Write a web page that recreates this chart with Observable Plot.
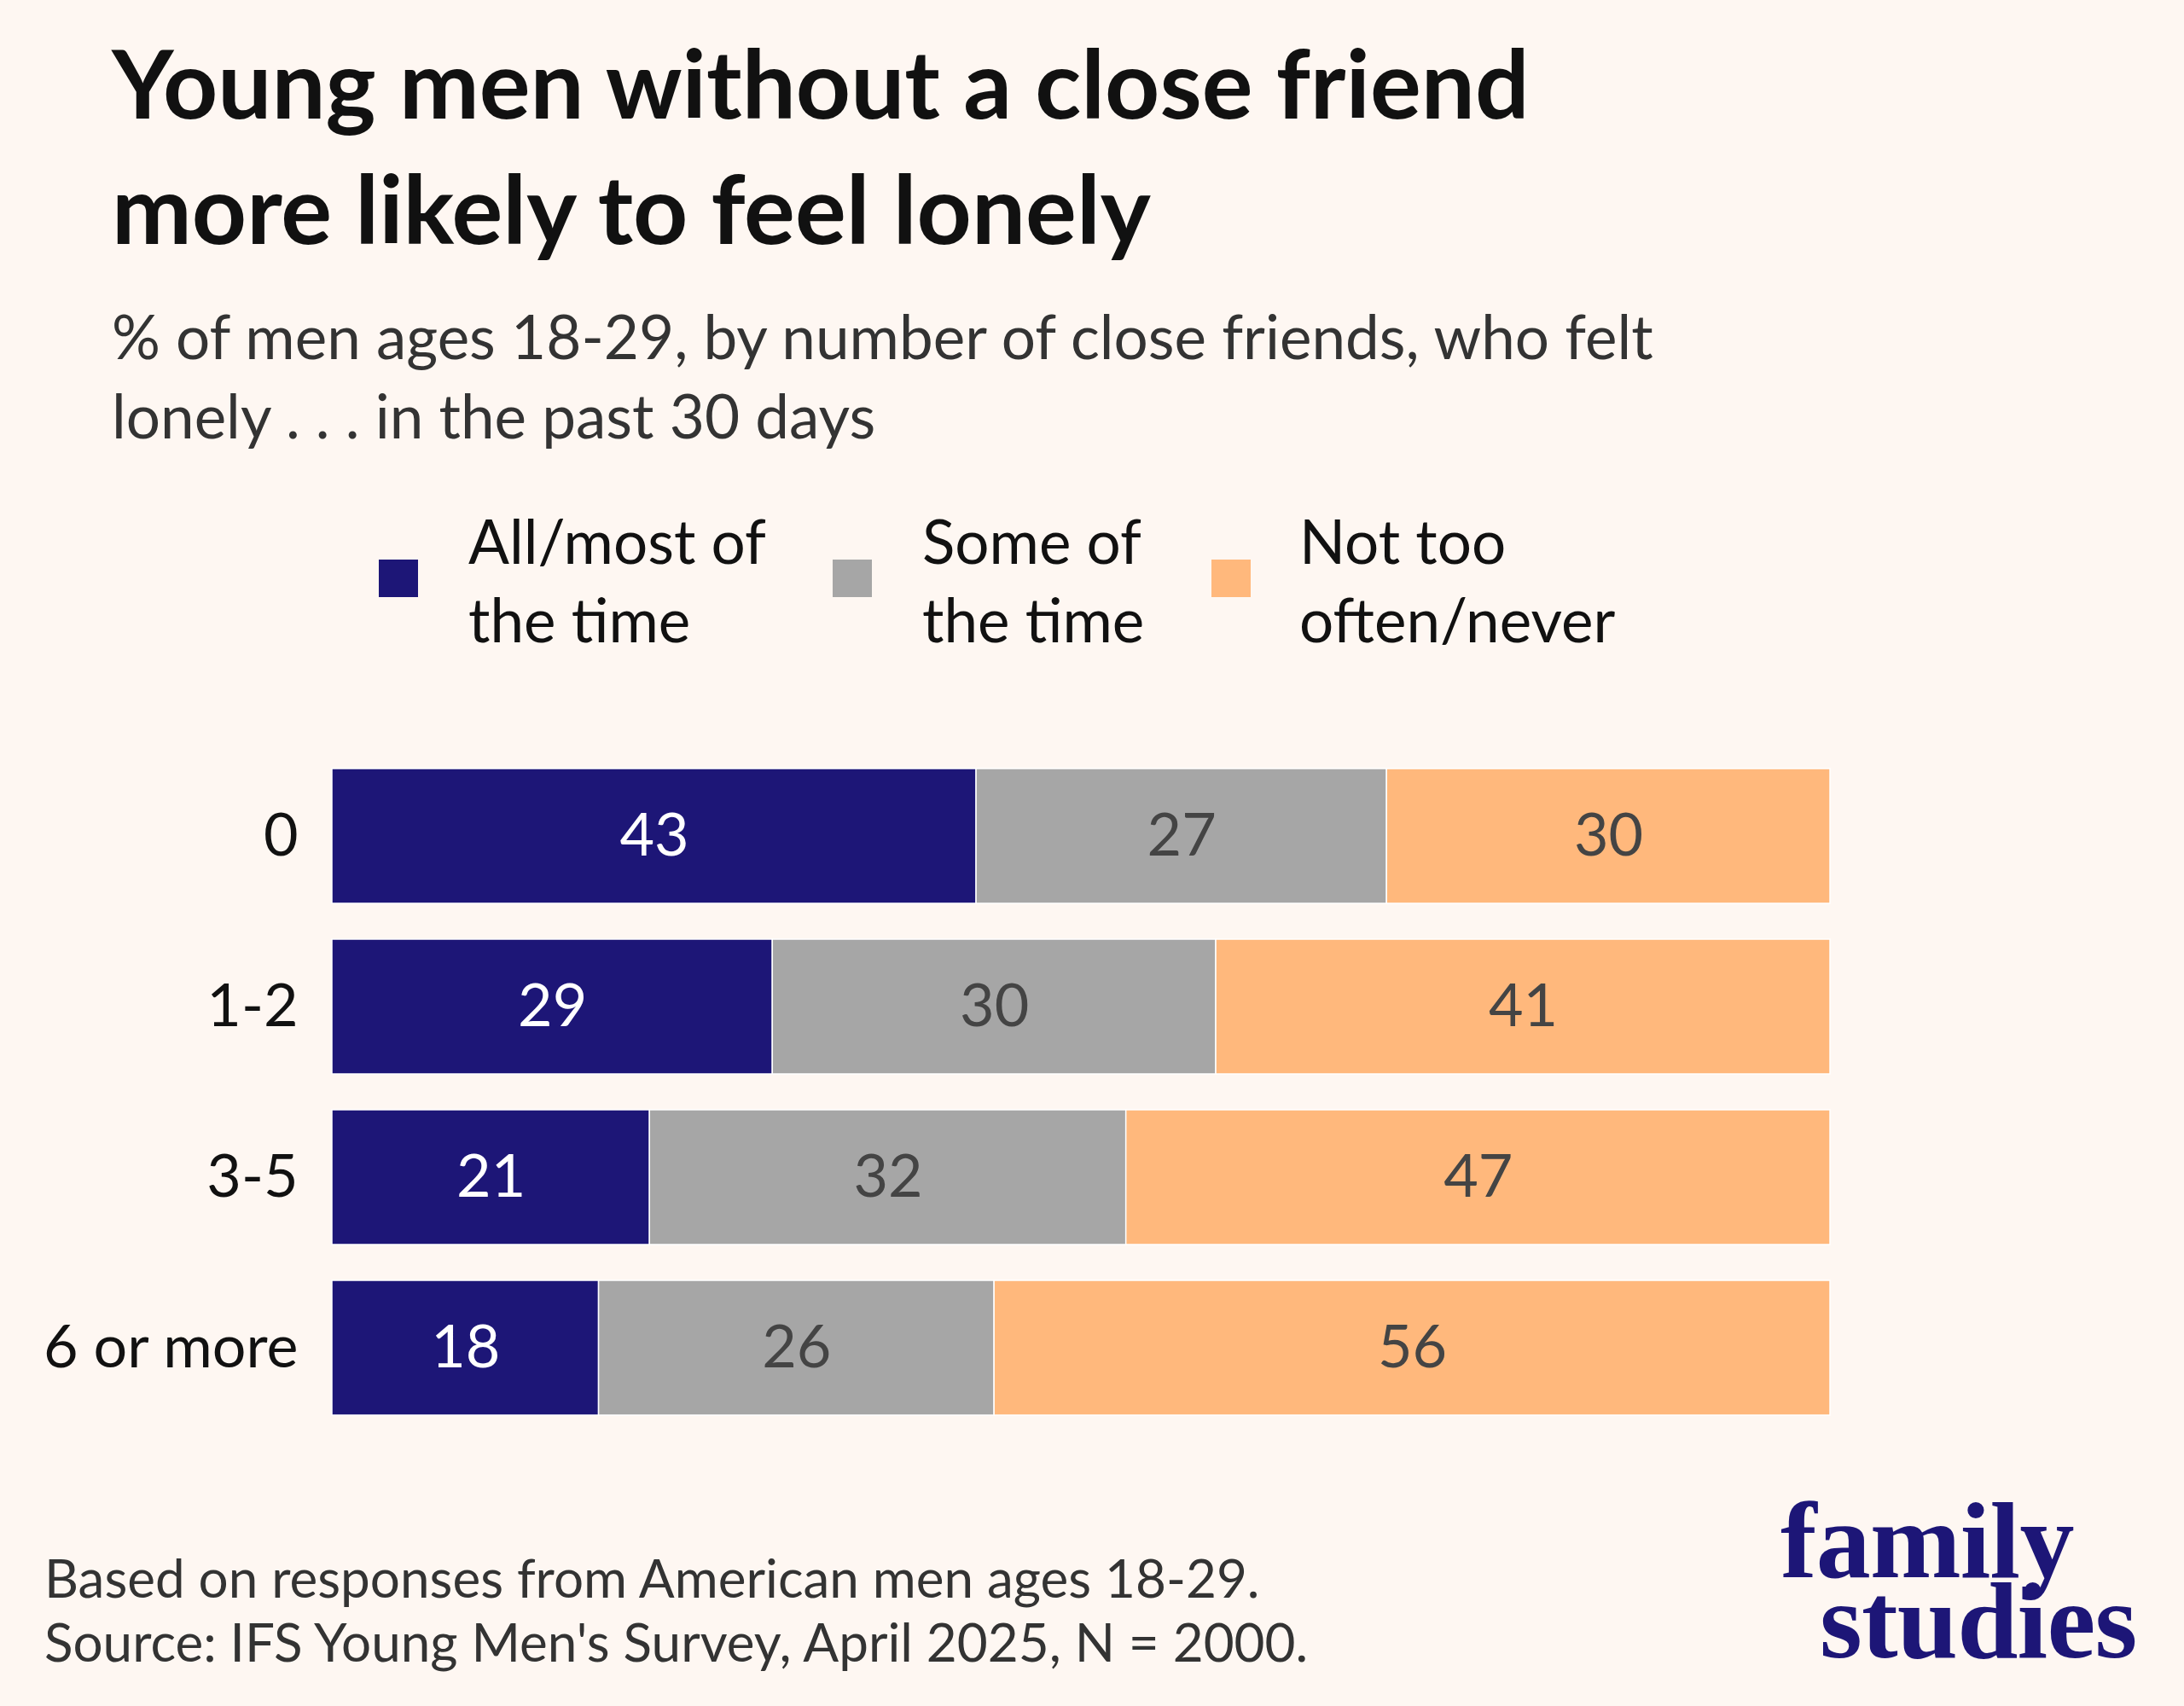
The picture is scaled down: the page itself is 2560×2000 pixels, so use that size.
<!DOCTYPE html>
<html>
<head>
<meta charset="utf-8">
<script src="https://cdn.jsdelivr.net/npm/d3@7"></script>
<script src="https://cdn.jsdelivr.net/npm/@observablehq/plot@0.6"></script>
<style>
  html, body { margin: 0; padding: 0; background: #fef7f2; }
  #page { position: relative; width: 2560px; height: 2000px; background: #fef7f2; font-family: Lato, "Open Sans", sans-serif; overflow: hidden; }
  .t { position: absolute; white-space: nowrap; line-height: 1; }
  .title { font-weight: 700; font-size: 112px; color: #111; }
  .sub { font-weight: 400; font-size: 71px; color: #333; }
  .leg { font-weight: 400; font-size: 71px; color: #111; }
  .sw { position: absolute; width: 46px; height: 44px; }
  .foot { font-weight: 400; font-size: 62px; color: #333; }
  #logo { position: absolute; left: 2060px; top: 1700px; overflow: visible; }
  #logo text { font-family: "Liberation Serif", "DejaVu Serif", serif; font-weight: 700; font-size: 128px; fill: #1d1677; letter-spacing: -0.8px; }
  #chart { position: absolute; left: 0; top: 800px; }
</style>
</head>
<body>
<div id="page">
  <div class="t title" style="left:131px; top:40px;">Young men without a close friend</div>
  <div class="t title" style="left:131px; top:187px;">more likely to feel lonely</div>
  <div class="t sub" style="left:131px; top:358px;">% of men ages 18-29, by number of close friends, who felt</div>
  <div class="t sub" style="left:131px; top:451px;">lonely . . . in the past 30 days</div>
  <div id="legend"></div>
  <div id="chart"></div>
  <div class="t foot" style="left:52px; top:1818px;">Based on responses from American men ages 18-29.</div>
  <div class="t foot" style="left:52px; top:1893px;">Source: IFS Young Men's Survey, April 2025, N = 2000.</div>
  <svg id="logo" width="500" height="300"><text><tspan x="27" y="149">family</tspan><tspan x="73" y="243">studies</tspan></text></svg>
</div>
<script>
// ---- Data ----
const categories = ["0", "1-2", "3-5", "6 or more"];
const responses = ["All/most of the time", "Some of the time", "Not too often/never"];
const legendLines = [["All/most of", "the time"], ["Some of", "the time"], ["Not too", "often/never"]];
const allMost = [43.0, 29.4, 21.2, 17.8];
const someTime = [27.4, 29.6, 31.8, 26.4];
const notOften = [29.6, 41.0, 47.0, 55.8];
const colors = ["#1d1677", "#a6a6a6", "#ffb87c"];

const series = [allMost, someTime, notOften];
const rows = [];
categories.forEach((c, i) => {
  responses.forEach((r, j) => {
    rows.push({friends: c, response: r, value: series[j][i]});
  });
});

// ---- Legend (HTML) ----
const legendX = [444, 976, 1420];
const legendTextX = [549, 1081, 1523];
const legend = document.getElementById("legend");
responses.forEach((r, j) => {
  const sw = document.createElement("div");
  sw.className = "sw";
  sw.style.left = legendX[j] + "px";
  sw.style.top = "656px";
  sw.style.background = colors[j];
  legend.appendChild(sw);
  legendLines[j].forEach((line, k) => {
    const d = document.createElement("div");
    d.className = "t leg";
    d.style.left = legendTextX[j] + "px";
    d.style.top = (598 + k * 92) + "px";
    d.textContent = line;
    legend.appendChild(d);
  });
});

// ---- Chart ----
const stackOpts = {x: "value", y: "friends", z: "response", order: responses,
  text: d => String(Math.round(d.value)), fontSize: 70, fontFamily: "Lato, sans-serif"};

const chart = Plot.plot({
  width: 2560,
  height: 900,
  marginLeft: 389,
  marginRight: 415,
  marginTop: 100,
  marginBottom: 41,
  style: {background: "transparent", fontFamily: "Lato, sans-serif", color: "#111", overflow: "visible"},
  x: {domain: [0, 100], axis: null},
  y: {domain: categories, paddingInner: 0.21, paddingOuter: 0, label: null},
  color: {domain: responses, range: colors},
  marks: [
    Plot.barX(rows, Plot.stackX({x: "value", y: "friends", fill: "response", order: responses, stroke: "#ffffff", strokeWidth: 1.5})),
    Plot.textX(rows, Plot.filter(d => d.response === responses[0], Plot.stackX({...stackOpts, fill: "#ffffff"}))),
    Plot.textX(rows, Plot.filter(d => d.response !== responses[0], Plot.stackX({...stackOpts, fill: "#444444"}))),
    Plot.axisY({tickSize: 0, tickPadding: 40, fontSize: 70, fill: "#111", label: null})
  ]
});
document.getElementById("chart").appendChild(chart);
</script>
</body>
</html>
